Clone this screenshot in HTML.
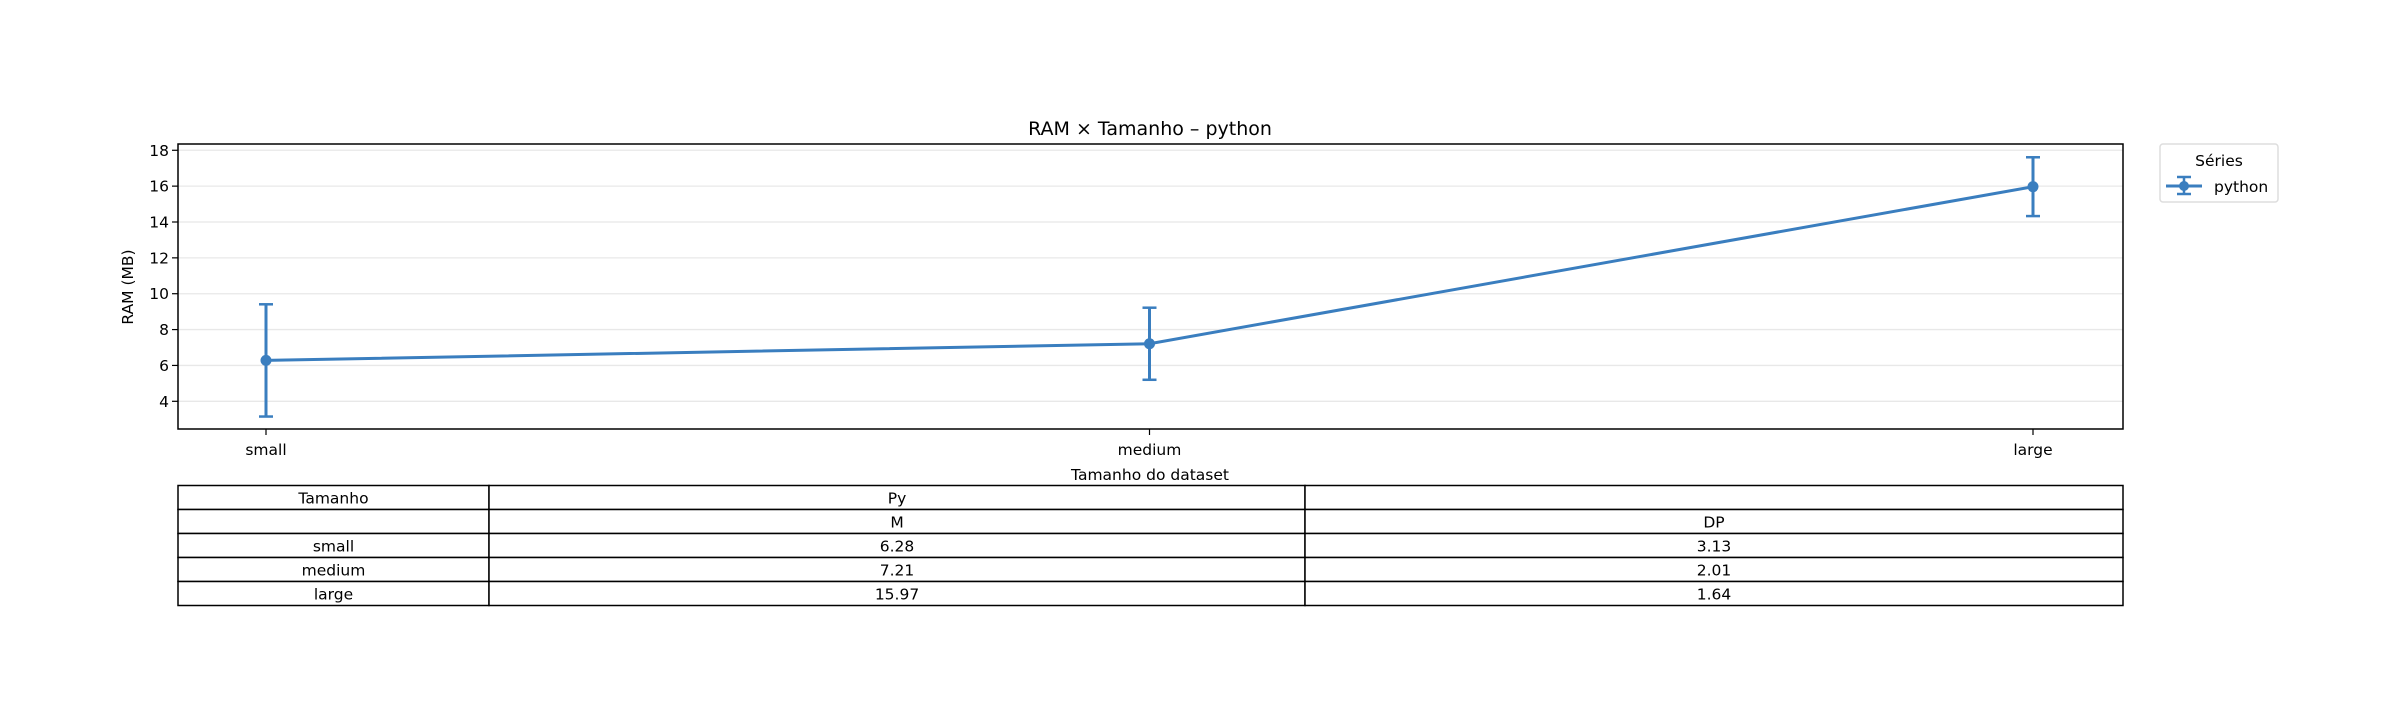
<!DOCTYPE html>
<html><head><meta charset="utf-8"><style>
body{margin:0;background:#fff}
svg{display:block;font-family:"DejaVu Sans","Liberation Sans",sans-serif}
</style></head><body>
<svg id="chart" width="2398" height="726" viewBox="0 0 2398 726" xmlns="http://www.w3.org/2000/svg">
<rect width="2398" height="726" fill="#fff"/>
<g id="grid"></g>
<g id="series"></g>
<rect x="178" y="144" width="1945" height="285" fill="none" stroke="#000" stroke-width="1.5"/>
<g id="axes"></g>
<text x="1150" y="135" font-size="19" text-anchor="middle">RAM × Tamanho – python</text>
<text x="1150" y="480" font-size="15.5" text-anchor="middle">Tamanho do dataset</text>
<text transform="translate(133,287) rotate(-90)" font-size="15.5" text-anchor="middle">RAM (MB)</text>
<g>
<rect x="2160" y="144" width="118" height="58" rx="3" fill="#fff" stroke="#ddd" stroke-width="1.5"/>
<text x="2219" y="166" font-size="15.5" text-anchor="middle">Séries</text>
<g>
<line x1="2166" y1="186" x2="2202" y2="186" stroke="#3a7ebf" stroke-width="3"/>
<line x1="2184" y1="177" x2="2184" y2="194" stroke="#3a7ebf" stroke-width="2.5"/>
<line x1="2177" y1="177" x2="2191" y2="177" stroke="#3a7ebf" stroke-width="2.5"/>
<line x1="2177" y1="194" x2="2191" y2="194" stroke="#3a7ebf" stroke-width="2.5"/>
<circle cx="2184" cy="186" r="5" fill="#3a7ebf"/>
<text x="2214" y="192" font-size="15.5">python</text>
</g>
</g>
<g id="table"></g>
</svg>
<script>
const categories=["small","medium","large"];
const means=[6.28,7.21,15.97];
const sds=[3.13,2.01,1.64];
const yTicks=[4,6,8,10,12,14,16,18];
const ns="http://www.w3.org/2000/svg";
const X0=178,X1=2123,Y0=144,Y1=429,YMIN=2.455,YMAX=18.35;
function xs(i){return 266+i*(2033-266)/(categories.length-1);}
function ys(v){return Y1-(v-YMIN)/(YMAX-YMIN)*(Y1-Y0);}
function mk(t,a,p){const e=document.createElementNS(ns,t);for(const k in a)e.setAttribute(k,a[k]);p.appendChild(e);return e;}
const grid=document.getElementById('grid'),axes=document.getElementById('axes'),ser=document.getElementById('series');
yTicks.forEach(v=>{
 const g=mk('line',{x1:X0,x2:X1,y1:ys(v),y2:ys(v),stroke:'#e8e8e8','stroke-width':1.3},grid);
 
 
 mk('line',{x1:X0-6,x2:X0,y1:ys(v),y2:ys(v),stroke:'#000','stroke-width':1.2},axes);
 const t=mk('text',{x:X0-9,y:ys(v)+5.5,'font-size':15.5,'text-anchor':'end'},axes);
 t.textContent=v;
 
 
});
categories.forEach((c,i)=>{
 mk('line',{x1:xs(i),x2:xs(i),y1:Y1,y2:Y1+6,stroke:'#000','stroke-width':1.2},axes);
 const t=mk('text',{x:xs(i),y:Y1+26,'font-size':15.5,'text-anchor':'middle'},axes);
 t.textContent=c;
 
 
});
const pl=mk('polyline',{points:means.map((m,i)=>xs(i)+','+ys(m)).join(' '),fill:'none',stroke:'#3a7ebf','stroke-width':3},ser);


means.forEach((m,i)=>{
 const g=mk('g',{},ser);
 
 
 const x=xs(i),a=ys(m-sds[i]),b=ys(m+sds[i]);
 mk('line',{x1:x,x2:x,y1:a,y2:b,stroke:'#3a7ebf','stroke-width':3},g);
 mk('line',{x1:x-7,x2:x+7,y1:a,y2:a,stroke:'#3a7ebf','stroke-width':2.5},g);
 mk('line',{x1:x-7,x2:x+7,y1:b,y2:b,stroke:'#3a7ebf','stroke-width':2.5},g);
 const c=mk('circle',{cx:x,cy:ys(m),r:5.5,fill:'#3a7ebf'},ser);
 
 
});
const tb=document.getElementById('table');


const cols=[178,489,1305,2123],rows=[485.5,509.5,533.5,557.5,581.5,605.5];
const cells=[["Tamanho","Py",""],["","M","DP"]].concat(categories.map((c,i)=>[c,means[i].toFixed(2),sds[i].toFixed(2)]));
for(let r=0;r<5;r++)for(let c=0;c<3;c++){
 const rc=mk('rect',{x:cols[c],y:rows[r],width:cols[c+1]-cols[c],height:rows[r+1]-rows[r],fill:'#fff',stroke:'#000','stroke-width':1.5},tb);
 
 
 if(cells[r][c]){const t=mk('text',{x:(cols[c]+cols[c+1])/2,y:rows[r]+18,'font-size':15.5,'text-anchor':'middle'},tb);t.textContent=cells[r][c];
 
 }
}
</script>
</body></html>
